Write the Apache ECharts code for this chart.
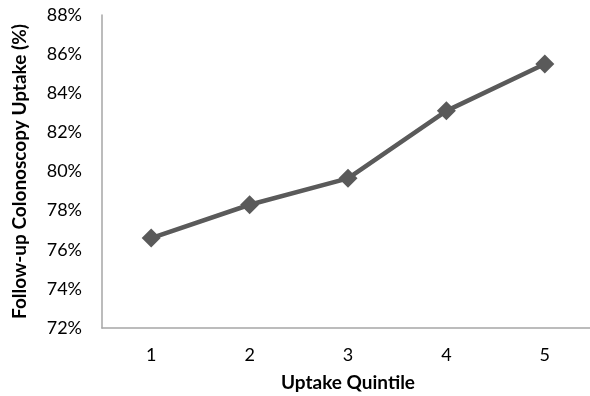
<!DOCTYPE html>
<html>
<head>
<meta charset="utf-8">
<script src="https://cdn.jsdelivr.net/npm/echarts@6/dist/echarts.min.js"></script>
<style>
  html, body { margin: 0; padding: 0; background: #fff; }
  #chart { width: 590px; height: 396px; }
</style>
</head>
<body>
<div id="chart"></div>
<script>
// Follow-up colonoscopy uptake by uptake quintile
const quintiles = ['1', '2', '3', '4', '5'];
const uptakePct = [76.6, 78.3, 79.65, 83.1, 85.5];
const yMin = 72, yMax = 88, yStep = 2;

const FONT = 'Lato, "Open Sans", sans-serif';
const chart = echarts.init(document.getElementById('chart'));
chart.setOption({
  animation: false,
  grid: { left: 102, top: 15, width: 492, height: 313, containLabel: false, outerBoundsMode: 'none' },
  xAxis: {
    type: 'category',
    data: quintiles,
    boundaryGap: true,
    name: 'Uptake Quintile',
    nameLocation: 'middle',
    nameGap: 45,
    nameTextStyle: { fontFamily: FONT, fontSize: 19, fontWeight: 'bold', color: '#000' },
    axisLine: { lineStyle: { color: '#a6a6a6', width: 1.5 } },
    axisTick: { show: false },
    axisLabel: { fontFamily: FONT, fontSize: 18, color: '#000', margin: 18 },
    splitLine: { show: false }
  },
  yAxis: {
    type: 'value',
    min: yMin, max: yMax, interval: yStep,
    name: 'Follow-up Colonoscopy Uptake (%)',
    nameLocation: 'middle',
    nameGap: 73,
    nameTextStyle: { fontFamily: FONT, fontSize: 19, fontWeight: 'bold', color: '#000' },
    axisLine: { show: true, lineStyle: { color: '#a6a6a6', width: 1.5 } },
    axisTick: { show: false },
    axisLabel: { fontFamily: FONT, fontSize: 18, color: '#000', margin: 20, formatter: v => v + '%' },
    splitLine: { show: false }
  },
  series: [{
    type: 'line',
    data: uptakePct,
    symbol: 'diamond',
    symbolSize: 19,
    lineStyle: { color: '#5a5a5a', width: 4.5 },
    itemStyle: { color: '#5a5a5a' }
  }]
});
</script>
</body>
</html>
